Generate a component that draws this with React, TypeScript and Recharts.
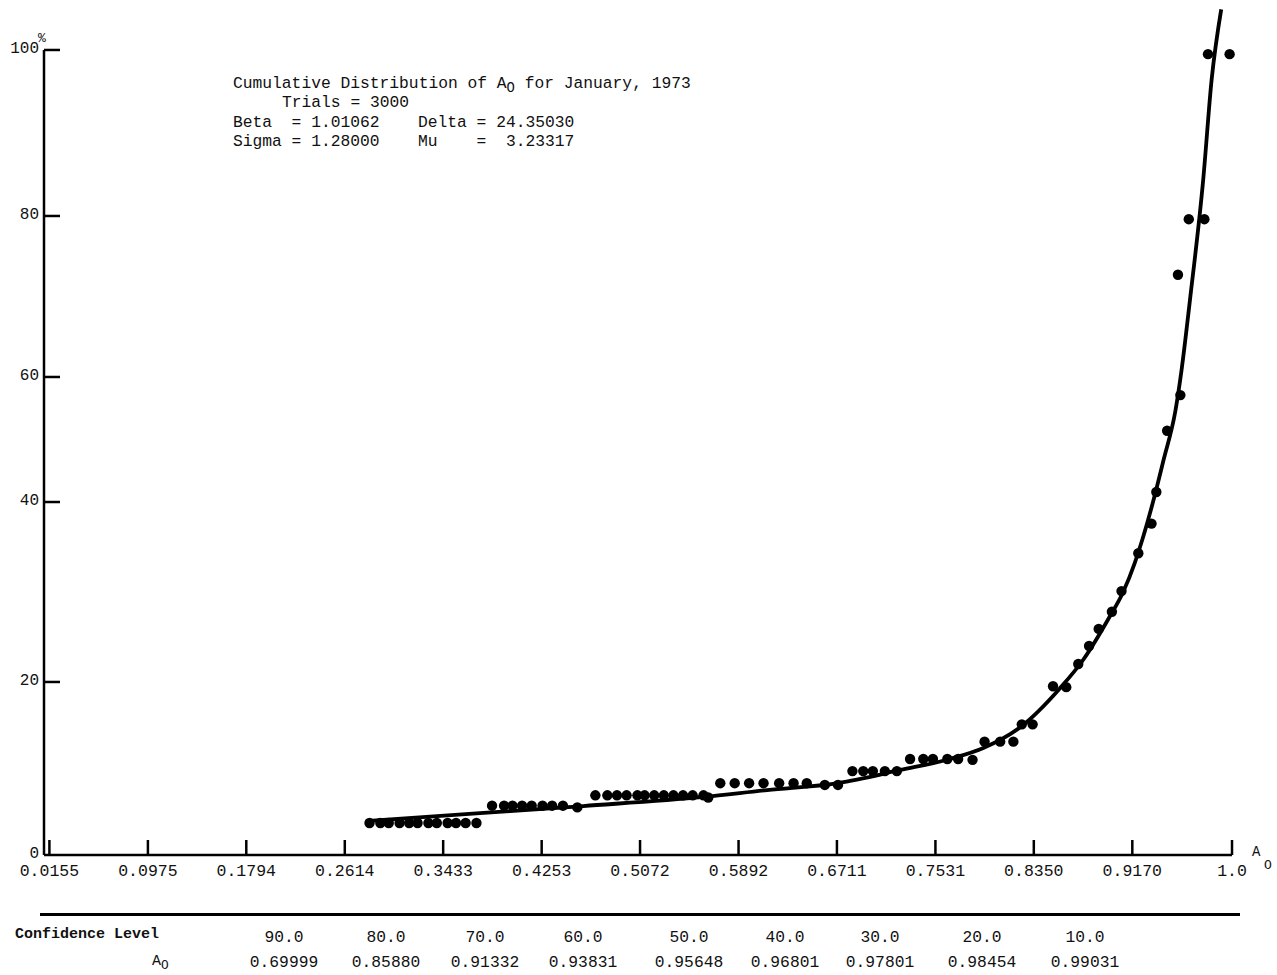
import React from "react";
import { ComposedChart, Line, Scatter, XAxis, YAxis, ReferenceLine } from "recharts";

// A0 axis, as printed on the sheet
const xTicks = [0.0155, 0.0975, 0.1794, 0.2614, 0.3433, 0.4253, 0.5072, 0.5892, 0.6711, 0.7531, 0.835, 0.917, 1.0];
const xTickLabels = ["0.0155", "0.0975", "0.1794", "0.2614", "0.3433", "0.4253", "0.5072", "0.5892", "0.6711", "0.7531", "0.8350", "0.9170", "1.0"];
const yTicks = [0, 20, 40, 60, 80, 100];

// fitted Johnson curve
const curveA0 = [0.279, 0.377, 0.46, 0.56, 0.613, 0.672, 0.724, 0.765, 0.793, 0.824, 0.857, 0.876, 0.898, 0.909, 0.919, 0.926, 0.934, 0.943, 0.953, 0.958, 0.965, 0.976, 0.983, 0.991];
const curvePct = [3.93, 4.86, 5.66, 6.71, 7.51, 8.32, 9.83, 11.1, 12.37, 14.8, 19.31, 22.44, 27.22, 29.89, 33.22, 36.11, 39.89, 46.72, 54.72, 60.87, 69.57, 84.34, 96.39, 104.9];

// observed cumulative points
const obsA0 = [
  0.282, 0.291, 0.298, 0.307, 0.315, 0.322, 0.331, 0.338, 0.347, 0.354, 0.362, 0.371,
  0.384, 0.394, 0.401, 0.409, 0.417, 0.426, 0.434, 0.443, 0.455,
  0.47, 0.48, 0.488, 0.496, 0.505, 0.511, 0.519, 0.527, 0.535, 0.543, 0.551, 0.56, 0.564,
  0.574, 0.586, 0.598, 0.61, 0.623, 0.635, 0.646, 0.661, 0.672,
  0.684, 0.693, 0.701, 0.711, 0.721,
  0.732, 0.743, 0.751, 0.763, 0.772, 0.784,
  0.794, 0.807, 0.818,
  0.825, 0.834,
  0.851, 0.862, 0.872, 0.881, 0.889, 0.9, 0.908, 0.922, 0.933, 0.937, 0.946, 0.957, 0.955, 0.964, 0.977, 0.98, 0.998,
];
const obsPct = [
  3.7, 3.7, 3.7, 3.7, 3.7, 3.7, 3.7, 3.7, 3.7, 3.7, 3.7, 3.7,
  5.7, 5.7, 5.7, 5.7, 5.7, 5.7, 5.7, 5.7, 5.5,
  6.9, 6.9, 6.9, 6.9, 6.9, 6.9, 6.9, 6.9, 6.9, 6.9, 6.9, 6.9, 6.65,
  8.3, 8.3, 8.3, 8.3, 8.3, 8.3, 8.3, 8.1, 8.1,
  9.7, 9.7, 9.7, 9.7, 9.7,
  11.1, 11.1, 11.1, 11.1, 11.1, 11.0,
  13.1, 13.1, 13.1,
  15.1, 15.1,
  19.5, 19.4, 22.0, 24.0, 25.9, 27.8, 30.1, 34.3, 37.6, 41.6, 51.4, 57.1, 72.7, 79.6, 79.6, 99.5, 99.5,
];

const confLevel = ["90.0", "80.0", "70.0", "60.0", "50.0", "40.0", "30.0", "20.0", "10.0"];
const confA0 = ["0.69999", "0.85880", "0.91332", "0.93831", "0.95648", "0.96801", "0.97801", "0.98454", "0.99031"];

const curve = curveA0.map((x, i) => ({ x, y: curvePct[i] }));
const points = obsA0.map((x, i) => ({ x, y: obsPct[i] }));

const X_MIN = 0.011;
const X_MAX = 1.0233; // a little room right of 1.0 so the last dot is not clipped

// The % axis on the sheet is not evenly spaced: where each label sits, 0 = bottom, 1 = top.
const Y_KNOTS = [0, 20, 40, 60, 80, 100, 105];
const Y_POS = [0, 0.2044, 0.417, 0.5647, 0.7549, 0.951, 1];

function sheetScale(): any {
  let dom = [0, 105];
  let rng = [0, 1];
  const frac = (v: number) => {
    let i = 1;
    while (i < Y_KNOTS.length - 1 && v > Y_KNOTS[i]) i++;
    const t = (v - Y_KNOTS[i - 1]) / (Y_KNOTS[i] - Y_KNOTS[i - 1]);
    return Y_POS[i - 1] + t * (Y_POS[i] - Y_POS[i - 1]);
  };
  const s: any = (v: any) => rng[0] + frac(Number(v)) * (rng[1] - rng[0]);
  s.domain = (d?: number[]) => (d ? ((dom = [...d]), s) : dom.slice());
  s.range = (r?: number[]) => (r ? ((rng = [...r]), s) : rng.slice());
  s.copy = () => sheetScale().domain(dom).range(rng);
  s.ticks = () => yTicks.slice();
  s.bandwidth = () => 0;
  s.invert = (p: number) => {
    const f = (p - rng[0]) / (rng[1] - rng[0]);
    let i = 1;
    while (i < Y_POS.length - 1 && f > Y_POS[i]) i++;
    const t = (f - Y_POS[i - 1]) / (Y_POS[i] - Y_POS[i - 1]);
    return Y_KNOTS[i - 1] + t * (Y_KNOTS[i] - Y_KNOTS[i - 1]);
  };
  return s;
}
const yScale = sheetScale();

const MONO = "'Liberation Mono', 'DejaVu Sans Mono', monospace";

function YTick(props: any) {
  const { x, y, payload } = props;
  return (
    <g>
      {payload.value > 0 && <line x1={x} y1={y} x2={x + 16} y2={y} stroke="#000" strokeWidth={2.5} />}
      <text x={x - 5} y={y - 1} textAnchor="end" dominantBaseline="central" fontSize={16} fontFamily={MONO} fill="#111">
        {payload.value}
      </text>
    </g>
  );
}

function XTick(props: any) {
  const { x, y, payload } = props;
  const label = xTickLabels[xTicks.indexOf(payload.value)] ?? String(payload.value);
  return (
    <g>
      <line x1={x} y1={y} x2={x} y2={y - 15} stroke="#000" strokeWidth={2.5} />
      <text x={x} y={y + 16} textAnchor="middle" dominantBaseline="central" fontSize={16.5} fontFamily={MONO} fill="#111">
        {label}
      </text>
    </g>
  );
}

const Dot = (p: any) => <circle cx={p.cx} cy={p.cy} r={5.2} fill="#000" />;

const tableCols = [284, 386, 485, 583, 689, 785, 880, 982, 1085];

const txt: React.CSSProperties = {
  position: "absolute",
  fontFamily: MONO,
  fontSize: 16.3,
  color: "#111",
  whiteSpace: "pre",
  lineHeight: "18px",
};

function Sub({ children }: { children: React.ReactNode }) {
  return <span style={{ fontSize: "0.85em", position: "relative", top: 4 }}>{children}</span>;
}

export default function App() {
  return (
    <div style={{ position: "absolute", left: 0, top: 0, width: 1277, height: 975, background: "#fff" }}>
      <ComposedChart width={1277} height={975} margin={{ top: 8.5, right: 17, bottom: 119, left: 43 }}>
        <XAxis
          type="number"
          dataKey="x"
          domain={[X_MIN, X_MAX]}
          allowDataOverflow
          ticks={xTicks}
          height={1}
          tickSize={0}
          tickMargin={0}
          tickLine={false}
          axisLine={false}
          tick={<XTick />}
          interval={0}
        />
        <YAxis
          type="number"
          dataKey="y"
          domain={[0, 105]}
          allowDataOverflow
          scale={yScale}
          ticks={yTicks}
          width={1}
          tickSize={0}
          tickMargin={0}
          tickLine={false}
          axisLine={false}
          tick={<YTick />}
          interval={0}
        />
        <ReferenceLine
          segment={[{ x: X_MIN, y: 0 }, { x: X_MIN, y: 100 }]}
          stroke="#000"
          strokeWidth={2.5}
          ifOverflow="visible"
        />
        <ReferenceLine
          segment={[{ x: X_MIN, y: 0 }, { x: 1.0, y: 0 }]}
          stroke="#000"
          strokeWidth={2.5}
          ifOverflow="visible"
        />
        <Line
          data={curve}
          dataKey="y"
          type="monotone"
          stroke="#000"
          strokeWidth={3.8}
          dot={false}
          activeDot={false}
          isAnimationActive={false}
        />
        <Scatter data={points} dataKey="y" shape={Dot} isAnimationActive={false} />
      </ComposedChart>

      <div style={{ ...txt, left: 38, top: 30, fontSize: 13 }}>%</div>
      <div style={{ ...txt, left: 1252, top: 843, fontSize: 14 }}>A</div>
      <div style={{ ...txt, left: 1264, top: 857, fontSize: 13 }}>O</div>

      <div style={{ ...txt, left: 233, top: 75 }}>
        Cumulative Distribution of A<Sub>O</Sub> for January, 1973
      </div>
      <div style={{ ...txt, left: 282, top: 94 }}>Trials = 3000</div>
      <div style={{ ...txt, left: 233, top: 114 }}>Beta  = 1.01062</div>
      <div style={{ ...txt, left: 418, top: 114 }}>Delta = 24.35030</div>
      <div style={{ ...txt, left: 233, top: 133 }}>Sigma = 1.28000</div>
      <div style={{ ...txt, left: 418, top: 133 }}>Mu    =  3.23317</div>

      <div style={{ position: "absolute", left: 40, top: 913, width: 1200, height: 2.5, background: "#000" }} />
      <div style={{ ...txt, left: 15, top: 926, fontWeight: "bold", fontSize: 15 }}>Confidence Level</div>
      <div style={{ ...txt, left: 152, top: 953, fontSize: 15 }}>
        A<Sub>O</Sub>
      </div>
      {confLevel.map((c, i) => (
        <div key={"c" + i} style={{ ...txt, left: tableCols[i], top: 929, transform: "translateX(-50%)" }}>
          {c}
        </div>
      ))}
      {confA0.map((c, i) => (
        <div key={"a" + i} style={{ ...txt, left: tableCols[i], top: 954, transform: "translateX(-50%)" }}>
          {c}
        </div>
      ))}
    </div>
  );
}
